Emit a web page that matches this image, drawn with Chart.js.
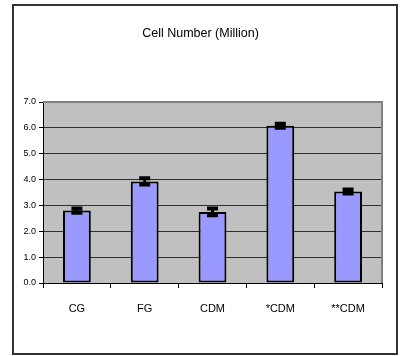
<!DOCTYPE html>
<html lang="en">
<head>
    <meta charset="UTF-8">
    <title>Cell Number (Million)</title>
    <style>
        body {
            margin: 0;
            background-color: white;
        }
        #wrap {
            width: 401px;
            height: 356px;
        }
    </style>
    <script src="https://cdn.jsdelivr.net/npm/chart.js"></script>
</head>
<body>
    <div id="wrap">
        <canvas id="cellChart" width="401" height="356"></canvas>
    </div>

    <script>
        // datos
        const categories = ['CG', 'FG', 'CDM', '*CDM', '**CDM'];
        const cellNumbers = [2.8, 3.93, 2.75, 6.08, 3.54];
        const errors = [0.08, 0.12, 0.13, 0.08, 0.08];
        const yMin = 0;
        const yMax = 7;
        const yStep = 1;

        const fontFamily = "'Liberation Sans', Arial, sans-serif";

        // fondo gris del area, borde del grafico y barras de error
        const decor = {
            id: 'decor',
            beforeDraw(chart) {
                const { ctx, chartArea: a } = chart;
                ctx.save();
                ctx.fillStyle = '#c0c0c0';
                ctx.fillRect(a.left, a.top, a.right - a.left, a.bottom - a.top);
                ctx.strokeStyle = '#333';
                ctx.lineWidth = 2;
                ctx.strokeRect(13, 5, 384, 349);
                ctx.restore();
            },
            afterDraw(chart) {
                const { ctx, chartArea: a } = chart;
                ctx.save();
                ctx.strokeStyle = '#808080';
                ctx.lineWidth = 2;
                ctx.beginPath();
                ctx.moveTo(a.left, a.top);
                ctx.lineTo(a.right, a.top);
                ctx.lineTo(a.right, a.bottom);
                ctx.stroke();
                ctx.restore();
            },
            afterDatasetsDraw(chart) {
                const { ctx } = chart;
                const y = chart.scales.y;
                const meta = chart.getDatasetMeta(0);
                ctx.save();
                ctx.strokeStyle = '#000';
                meta.data.forEach((bar, i) => {
                    const v = cellNumbers[i];
                    const top = y.getPixelForValue(v + errors[i]);
                    const bottom = y.getPixelForValue(v - errors[i]);
                    ctx.lineWidth = 3;
                    ctx.beginPath();
                    ctx.moveTo(bar.x, top);
                    ctx.lineTo(bar.x, bottom);
                    ctx.stroke();
                    ctx.lineWidth = 4;
                    ctx.beginPath();
                    ctx.moveTo(bar.x - 5.5, top);
                    ctx.lineTo(bar.x + 5.5, top);
                    ctx.moveTo(bar.x - 5.5, bottom);
                    ctx.lineTo(bar.x + 5.5, bottom);
                    ctx.stroke();
                });
                ctx.restore();
            }
        };

        const ctx = document.getElementById('cellChart').getContext('2d');

        new Chart(ctx, {
            type: 'bar',
            data: {
                labels: categories,
                datasets: [{
                    label: 'Cell Number',
                    data: cellNumbers,
                    backgroundColor: '#9999ff',
                    borderColor: '#000',
                    borderWidth: 2,
                    borderSkipped: false,
                    barPercentage: 0.41,
                    categoryPercentage: 1
                }]
            },
            options: {
                responsive: false,
                animation: false,
                devicePixelRatio: 1,
                layout: {
                    padding: 0
                },
                plugins: {
                    legend: { display: false },
                    tooltip: { enabled: false },
                    title: {
                        display: true,
                        text: 'Cell Number (Million)',
                        color: '#000',
                        font: { family: fontFamily, size: 12.5, weight: 'normal' },
                        padding: { top: 26, bottom: 61 }
                    }
                },
                scales: {
                    y: {
                        min: yMin,
                        max: yMax,
                        afterFit(scale) { scale.width = 43; },
                        ticks: {
                            stepSize: yStep,
                            color: '#000',
                            padding: 3,
                            font: { family: fontFamily, size: 9 },
                            callback: (v) => Number(v).toFixed(1)
                        },
                        grid: {
                            color: '#303030',
                            tickColor: '#000',
                            tickLength: 4,
                            lineWidth: 1
                        },
                        border: { display: true, color: '#000', width: 1 }
                    },
                    // eje vacio a la derecha solo para dejar margen
                    yRight: {
                        position: 'right',
                        afterFit(scale) { scale.width = 19; },
                        ticks: { display: false },
                        grid: { display: false },
                        border: { display: false }
                    },
                    x: {
                        afterFit(scale) { scale.height = 73; },
                        ticks: {
                            color: '#000',
                            padding: 14,
                            font: { family: fontFamily, size: 11 }
                        },
                        grid: {
                            offset: true,
                            drawOnChartArea: false,
                            drawTicks: true,
                            tickLength: 5,
                            tickColor: '#000'
                        },
                        border: { display: true, color: '#000', width: 1 }
                    }
                }
            },
            plugins: [decor]
        });
    </script>
</body>
</html>
